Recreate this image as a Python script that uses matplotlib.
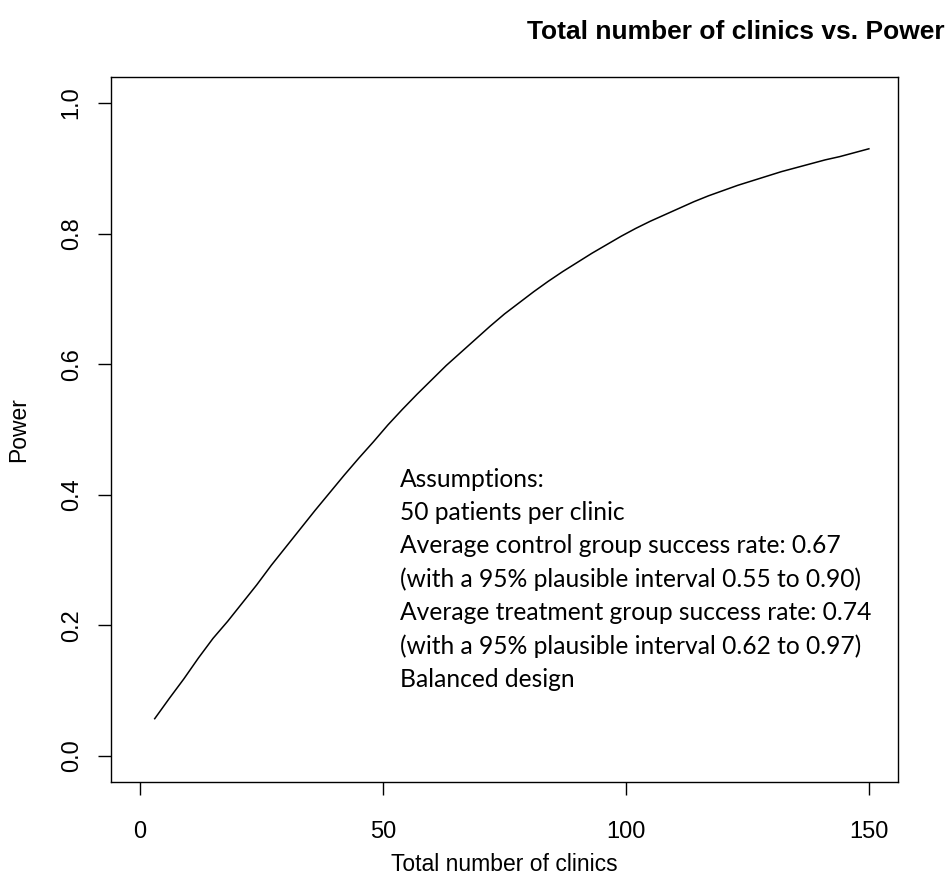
import matplotlib
matplotlib.use('Agg')
import matplotlib.pyplot as plt

# simulated power curve
clinics = [3, 6, 9, 12, 15, 18, 21, 24, 27, 30, 33, 36, 39, 42, 45, 48, 51, 54, 57, 60,
           63, 66, 69, 72, 75, 78, 81, 84, 87, 90, 93, 96, 99, 102, 105, 108, 111, 114,
           117, 120, 123, 126, 129, 132, 135, 138, 141, 144, 147, 150]
power = [0.057, 0.088, 0.118, 0.150, 0.180, 0.206, 0.234, 0.262, 0.292, 0.320,
         0.348, 0.376, 0.403, 0.430, 0.456, 0.481, 0.507, 0.531, 0.554, 0.576,
         0.598, 0.618, 0.638, 0.658, 0.677, 0.694, 0.711, 0.727, 0.742, 0.756,
         0.770, 0.783, 0.796, 0.808, 0.819, 0.829, 0.839, 0.849, 0.858, 0.866,
         0.874, 0.881, 0.888, 0.895, 0.901, 0.907, 0.913, 0.918, 0.924, 0.930]

xticks = [0, 50, 100, 150]
yticks = [0.0, 0.2, 0.4, 0.6, 0.8, 1.0]
ytick_labels = ['0.0', '0.2', '0.4', '0.6', '0.8', '1.0']

assumptions = ["Assumptions:",
               "50 patients per clinic",
               "Average control group success rate: 0.67",
               "(with a 95% plausible interval 0.55 to 0.90)",
               "Average treatment group success rate: 0.74",
               "(with a 95% plausible interval 0.62 to 0.97)",
               "Balanced design"]

plt.rcParams['font.family'] = ['Liberation Sans', 'DejaVu Sans']

fig = plt.figure(figsize=(9.47, 8.93), dpi=100)
ax = fig.add_axes([0.1172, 0.1243, 0.8311, 0.7895])

ax.plot(clinics, power, color='black', lw=1.1)

ax.set_xlim(-6, 156)
ax.set_ylim(-0.04, 1.04)
ax.set_xticks(xticks)
ax.set_xticklabels([str(t) for t in xticks])
ax.set_yticks(yticks)
ax.set_yticklabels(ytick_labels, rotation=90, va='center')
ax.tick_params(axis='both', length=9.4, width=1.0, labelsize=17)
ax.tick_params(axis='x', pad=19)
ax.tick_params(axis='y', pad=11)
for s in ax.spines.values():
    s.set_linewidth(1.0)

ax.set_xlabel('Total number of clinics', fontsize=16.5, labelpad=7)
ax.set_ylabel('Power', fontsize=16.5, labelpad=22)

fig.text(0.997, 0.964, 'Total number of clinics vs. Power', ha='right', va='center',
         fontsize=19, fontweight='bold')

ax.text(53.5, 0.441, "\n".join(assumptions), ha='left', va='top',
        fontsize=17.7, family=['Lato', 'DejaVu Sans'], linespacing=1.53)

fig.savefig('out.png', dpi=100)
